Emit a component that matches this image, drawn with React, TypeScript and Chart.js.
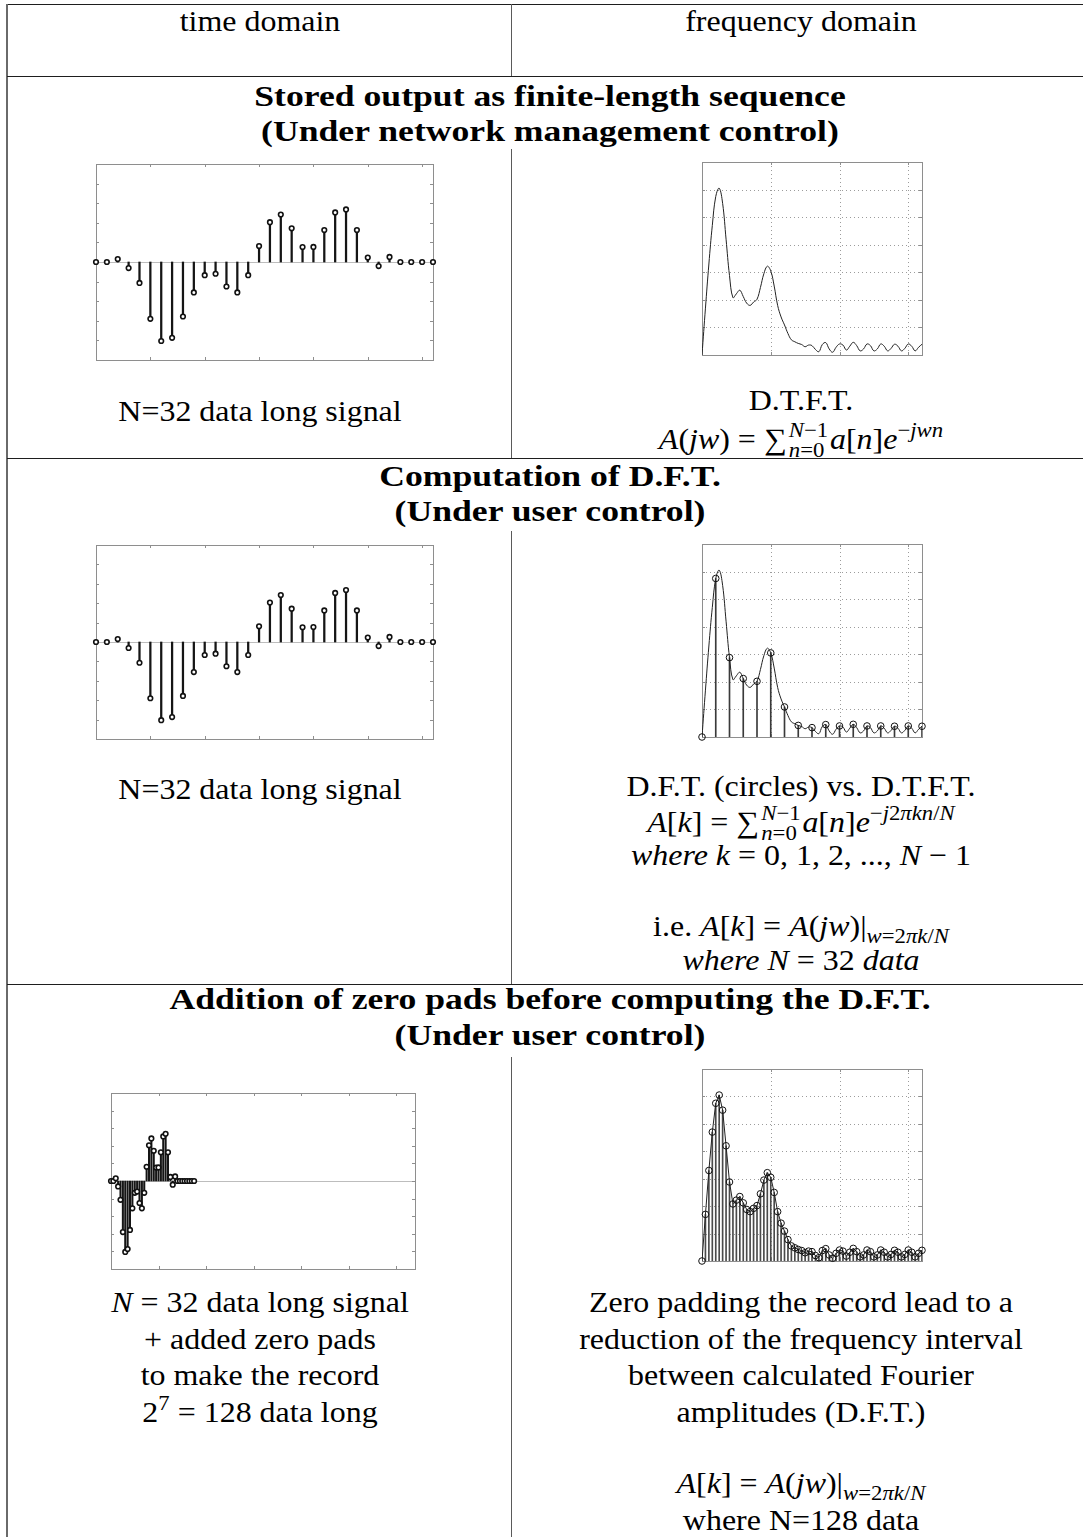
import React, { useEffect, useRef } from "react";
import { Chart, registerables } from "chart.js";

Chart.register(...registerables);

// ---------------- data ----------------
const timeValues = [
  0, 0, 0.15, -0.31, -1.07, -2.9, -4.03, -3.87, -2.78, -1.55, -0.67, -0.6,
  -1.25, -1.55, -0.67, 0.81, 2.03, 2.42, 1.72, 0.76, 0.77, 1.63, 2.53, 2.68,
  1.63, 0.23, -0.21, 0.26, 0, 0, 0, 0,
];
const zeroPadsShown = [0, 0, 0, 0];
const timeXTicks = [5, 10, 15, 20, 25, 30];
const timeYTicks = [-4, -3, -2, -1, 0, 1, 2, 3, 4];
const paddedXTicks = [20, 40, 60, 80, 100, 120];

// D.T.F.T. magnitude read at quarter-bin steps (k = 0, 0.25, ..., 16)
const dtftMag = [
  0, 1.7, 3.3, 4.7, 5.75, 6.05, 5.5, 4.2, 2.88, 2.08, 2.22, 2.35, 2.12, 1.88,
  1.8, 1.92, 2.02, 2.45, 2.95, 3.22, 3.05, 2.5, 1.8, 1.38, 1.09, 0.78, 0.55,
  0.48, 0.42, 0.38, 0.3, 0.36, 0.34, 0.2, 0.12, 0.38, 0.45, 0.22, 0.1, 0.28,
  0.4, 0.36, 0.18, 0.32, 0.46, 0.34, 0.15, 0.22, 0.4, 0.34, 0.15, 0.22, 0.4,
  0.32, 0.15, 0.24, 0.39, 0.32, 0.15, 0.24, 0.4, 0.32, 0.15, 0.28, 0.39,
];
const dftBins = [0, 1, 2, 3, 4, 5, 6, 7, 8, 9, 10, 11, 12, 13, 14, 15, 16];
const dft32 = [
  0, 5.75, 2.88, 2.12, 2.02, 3.05, 1.09, 0.42, 0.34, 0.45, 0.4, 0.46, 0.4,
  0.4, 0.39, 0.4, 0.39,
];
const freqXTicks = [5, 10, 15];
const freqYTicks = [1, 2, 3, 4, 5, 6];

// ---------------- helpers ----------------
const P = 6;
type Box = { left: number; top: number; right: number; bottom: number };

function framePlugin(cfg: {
  xTicks: number[];
  yTicks: number[];
  grid?: boolean;
  zero?: boolean;
}) {
  return {
    id: "frame",
    beforeDatasetsDraw(chart: any) {
      const { ctx, chartArea: a, scales } = chart;
      const x = scales.x;
      const y = scales.y;
      const seg = (x1: number, y1: number, x2: number, y2: number) => {
        ctx.beginPath();
        ctx.moveTo(x1, y1);
        ctx.lineTo(x2, y2);
        ctx.stroke();
      };
      ctx.save();
      ctx.lineWidth = 1;
      if (cfg.grid) {
        ctx.strokeStyle = "#9c9c9c";
        ctx.setLineDash([1, 3]);
        for (const t of cfg.xTicks) {
          const px = Math.round(x.getPixelForValue(t)) + 0.5;
          seg(px, a.top, px, a.bottom);
        }
        for (const t of cfg.yTicks) {
          const py = Math.round(y.getPixelForValue(t)) + 0.5;
          seg(a.left, py, a.right, py);
        }
        ctx.setLineDash([]);
      }
      if (cfg.zero) {
        ctx.strokeStyle = "#bdbdbd";
        const py = Math.round(y.getPixelForValue(0)) + 0.5;
        seg(a.left, py, a.right, py);
      }
      ctx.strokeStyle = "#8e8e8e";
      ctx.strokeRect(
        Math.round(a.left) + 0.5,
        Math.round(a.top) + 0.5,
        Math.round(a.right - a.left),
        Math.round(a.bottom - a.top)
      );
      const L = 3;
      for (const t of cfg.xTicks) {
        const px = Math.round(x.getPixelForValue(t)) + 0.5;
        seg(px, a.top, px, a.top + L);
        seg(px, a.bottom, px, a.bottom - L);
      }
      for (const t of cfg.yTicks) {
        const py = Math.round(y.getPixelForValue(t)) + 0.5;
        seg(a.left, py, a.left + L, py);
        seg(a.right, py, a.right - L, py);
      }
      ctx.restore();
    },
  };
}

const baseOptions = (xMax: number, yMin: number, yMax: number) => ({
  responsive: false,
  animation: false,
  devicePixelRatio: 1,
  events: [],
  layout: { padding: P },
  plugins: { legend: { display: false }, tooltip: { enabled: false } },
  scales: {
    x: { type: "linear", min: 0, max: xMax, display: false, offset: false },
    y: { type: "linear", min: yMin, max: yMax, display: false },
  },
});

function timeConfig(values: number[], xMax: number, xTicks: number[], stemW: number) {
  const pts = values.map((v, i) => ({ x: i, y: v }));
  return {
    type: "bar",
    data: {
      datasets: [
        {
          type: "scatter",
          data: pts,
          showLine: false,
          pointRadius: 2.3,
          pointBorderWidth: 1.6,
          pointBorderColor: "#111",
          pointBackgroundColor: "#fff",
          clip: false,
          order: 0,
        },
        {
          type: "bar",
          data: pts,
          backgroundColor: "#151515",
          barThickness: stemW,
          grouped: false,
          clip: false,
          order: 1,
        },
      ],
    },
    options: baseOptions(xMax, -5, 5),
    plugins: [framePlugin({ xTicks, yTicks: timeYTicks, zero: true })],
  };
}

function freqConfig(kind: "dtft" | "dft32" | "dft128") {
  const curve = dtftMag.map((v, i) => ({ x: i / 4, y: v }));
  const datasets: any[] = [];
  if (kind === "dft32") {
    const pts = dft32.map((v, i) => ({ x: dftBins[i], y: v }));
    datasets.push({
      type: "scatter",
      data: pts,
      showLine: false,
      pointRadius: 3.3,
      pointBorderWidth: 1,
      pointBorderColor: "#111",
      pointBackgroundColor: "rgba(0,0,0,0)",
      clip: false,
      order: 0,
    });
    datasets.push({
      type: "bar",
      data: pts,
      backgroundColor: "#3a3a3a",
      barThickness: 1,
      grouped: false,
      order: 2,
    });
  }
  if (kind === "dft128") {
    datasets.push({
      type: "scatter",
      data: curve,
      showLine: false,
      pointRadius: 3.3,
      pointBorderWidth: 1,
      pointBorderColor: "#111",
      pointBackgroundColor: "rgba(0,0,0,0)",
      clip: false,
      order: 0,
    });
    datasets.push({
      type: "bar",
      data: curve,
      backgroundColor: "#4a4a4a",
      barThickness: 1,
      grouped: false,
      order: 2,
    });
  }
  datasets.push({
    type: "line",
    data: curve,
    borderColor: "#222",
    borderWidth: 1,
    pointRadius: 0,
    tension: kind === "dft128" ? 0 : 0.4,
    fill: false,
    order: 1,
  });
  return {
    type: "bar",
    data: { datasets },
    options: baseOptions(16, 0, 7),
    plugins: [framePlugin({ xTicks: freqXTicks, yTicks: freqYTicks, grid: true })],
  };
}

function ChartCanvas({ box, make }: { box: Box; make: () => any }) {
  const ref = useRef<HTMLCanvasElement>(null);
  useEffect(() => {
    const chart = new Chart(ref.current as HTMLCanvasElement, make());
    return () => chart.destroy();
  }, []);
  const w = box.right - box.left + 2 * P;
  const h = box.bottom - box.top + 2 * P;
  return (
    <canvas
      ref={ref}
      width={w}
      height={h}
      style={{ position: "absolute", left: box.left - P, top: box.top - P, width: w, height: h }}
    />
  );
}

// ---------------- text helpers ----------------
const FS = 29.5;
const SS = 21;
const FAMILY = '"Liberation Serif", "Times New Roman", serif';

// calibrate horizontal stretch so the serif face matches the width of the
// Computer Modern text in the reference
function measure(text: string, font: string, fallback: number) {
  try {
    const c = document.createElement("canvas").getContext("2d");
    if (!c) return fallback;
    c.font = font;
    const w = c.measureText(text).width;
    return w > 0 ? w : fallback;
  } catch (e) {
    return fallback;
  }
}
const REG_SX = 346 / measure("between calculated Fourier", `${FS}px ${FAMILY}`, 317);
const BOLD_SX =
  (25.8 * FS) / measure("Addition of zero pads before computing the D.F.T.", `bold ${FS}px ${FAMILY}`, 640);

function Line({
  cx,
  base,
  bold,
  children,
}: {
  cx: number;
  base: number;
  bold?: boolean;
  children: any;
}) {
  const half = 560;
  return (
    <div
      style={{
        position: "absolute",
        left: cx - half,
        width: half * 2,
        top: base - 0.8375 * FS,
        fontSize: FS,
        lineHeight: FS + "px",
        textAlign: "center",
        whiteSpace: "nowrap",
        fontWeight: bold ? "bold" : "normal",
        fontFamily: FAMILY,
        color: "#000",
        transform: `scaleX(${bold ? BOLD_SX : REG_SX})`,
        transformOrigin: `${half}px 0px`,
      }}
    >
      {children}
    </div>
  );
}

const I = ({ children }: { children: any }) => <i>{children}</i>;
const Sup = ({ children }: { children: any }) => (
  <span style={{ fontSize: SS, position: "relative", top: -12 }}>{children}</span>
);
const Sub = ({ children }: { children: any }) => (
  <span style={{ fontSize: SS, position: "relative", top: 7 }}>{children}</span>
);
function Limits({ sup, sub, w }: { sup: any; sub: any; w: number }) {
  const st = (b: number): any => ({
    position: "absolute",
    left: 2,
    top: b - 0.8375 * SS,
    fontSize: SS,
    lineHeight: SS + "px",
    whiteSpace: "nowrap",
  });
  return (
    <span style={{ display: "inline-block", position: "relative", width: w, height: 0 }}>
      <span style={st(-12)}>{sup}</span>
      <span style={st(8)}>{sub}</span>
    </span>
  );
}

const L_CX = 260;
const R_CX = 801;
const H_CX = 550;

function Rule({ x, y, w, h, c }: { x: number; y: number; w: number; h: number; c: string }) {
  return <div style={{ position: "absolute", left: x, top: y, width: w, height: h, background: c }} />;
}

export default function App() {
  const vc = "#5a5a5a";
  const hc = "#1e1e1e";
  return (
    <div
      style={{
        position: "fixed",
        left: 0,
        top: 0,
        width: 1083,
        height: 1537,
        background: "#fff",
        overflow: "hidden",
      }}
    >
      {/* table rules */}
      <Rule x={6} y={4} w={1077} h={1} c={hc} />
      <Rule x={6} y={4} w={2} h={1533} c={"#6a6a6a"} />
      <Rule x={7} y={76} w={1076} h={1} c={hc} />
      <Rule x={7} y={458} w={1076} h={1} c={hc} />
      <Rule x={7} y={984} w={1076} h={1} c={hc} />
      <Rule x={511} y={4} w={1} h={72} c={vc} />
      <Rule x={511} y={149} w={1} h={309} c={vc} />
      <Rule x={511} y={531} w={1} h={453} c={vc} />
      <Rule x={511} y={1057} w={1} h={480} c={vc} />

      {/* row 1 */}
      <Line cx={L_CX} base={32}>time domain</Line>
      <Line cx={R_CX} base={32}>frequency domain</Line>

      {/* row 2 */}
      <Line cx={H_CX} base={107} bold>
        Stored output as finite-length sequence
      </Line>
      <Line cx={H_CX} base={142} bold>
        (Under network management control)
      </Line>

      <ChartCanvas
        box={{ left: 96, top: 164, right: 433, bottom: 360 }}
        make={() => timeConfig(timeValues, 31, timeXTicks, 1.6)}
      />
      <ChartCanvas
        box={{ left: 702, top: 162, right: 922, bottom: 355 }}
        make={() => freqConfig("dtft")}
      />
      <Line cx={L_CX} base={422}>N=32 data long signal</Line>
      <Line cx={R_CX} base={411}>D.T.F.T.</Line>
      <Line cx={R_CX} base={450}>
        <I>A</I>(<I>jw</I>) = ∑
        <Limits sup={<><I>N</I>−1</>} sub={<><I>n</I>=0</>} w={40} />
        <I>a</I>[<I>n</I>]<I>e</I>
        <Sup>
          −<I>jwn</I>
        </Sup>
      </Line>

      {/* row 4 */}
      <Line cx={H_CX} base={487} bold>
        Computation of D.F.T.
      </Line>
      <Line cx={H_CX} base={522} bold>
        (Under user control)
      </Line>

      <ChartCanvas
        box={{ left: 96, top: 545, right: 433, bottom: 739 }}
        make={() => timeConfig(timeValues, 31, timeXTicks, 1.6)}
      />
      <ChartCanvas
        box={{ left: 702, top: 544, right: 922, bottom: 737 }}
        make={() => freqConfig("dft32")}
      />
      <Line cx={L_CX} base={800}>N=32 data long signal</Line>
      <Line cx={R_CX} base={797}>D.F.T. (circles) vs. D.T.F.T.</Line>
      <Line cx={R_CX} base={833}>
        <I>A</I>[<I>k</I>] = ∑
        <Limits sup={<><I>N</I>−1</>} sub={<><I>n</I>=0</>} w={40} />
        <I>a</I>[<I>n</I>]<I>e</I>
        <Sup>
          −<I>j</I>2<I>πkn</I>/<I>N</I>
        </Sup>
      </Line>
      <Line cx={R_CX} base={866}>
        <I>where k</I> = 0, 1, 2, ..., <I>N</I> − 1
      </Line>
      <Line cx={R_CX} base={937}>
        i.e. <I>A</I>[<I>k</I>] = <I>A</I>(<I>jw</I>)|
        <Sub>
          <I>w</I>=2<I>πk</I>/<I>N</I>
        </Sub>
      </Line>
      <Line cx={R_CX} base={971}>
        <I>where N</I> = 32 <I>data</I>
      </Line>

      {/* row 6 */}
      <Line cx={H_CX} base={1010} bold>
        Addition of zero pads before computing the D.F.T.
      </Line>
      <Line cx={H_CX} base={1046} bold>
        (Under user control)
      </Line>

      <ChartCanvas
        box={{ left: 111, top: 1093, right: 415, bottom: 1269 }}
        make={() => timeConfig(timeValues.concat(zeroPadsShown), 128, paddedXTicks, 1.4)}
      />
      <ChartCanvas
        box={{ left: 702, top: 1069, right: 922, bottom: 1261 }}
        make={() => freqConfig("dft128")}
      />
      <Line cx={L_CX} base={1313}>
        <I>N</I> = 32 data long signal
      </Line>
      <Line cx={L_CX} base={1350}>+ added zero pads</Line>
      <Line cx={L_CX} base={1386}>to make the record</Line>
      <Line cx={L_CX} base={1423}>
        2<Sup>7</Sup> = 128 data long
      </Line>

      <Line cx={R_CX} base={1313}>Zero padding the record lead to a</Line>
      <Line cx={R_CX} base={1350}>reduction of the frequency interval</Line>
      <Line cx={R_CX} base={1386}>between calculated Fourier</Line>
      <Line cx={R_CX} base={1423}>amplitudes (D.F.T.)</Line>
      <Line cx={R_CX} base={1494}>
        <I>A</I>[<I>k</I>] = <I>A</I>(<I>jw</I>)|
        <Sub>
          <I>w</I>=2<I>πk</I>/<I>N</I>
        </Sub>
      </Line>
      <Line cx={R_CX} base={1531}>where N=128 data</Line>
    </div>
  );
}
